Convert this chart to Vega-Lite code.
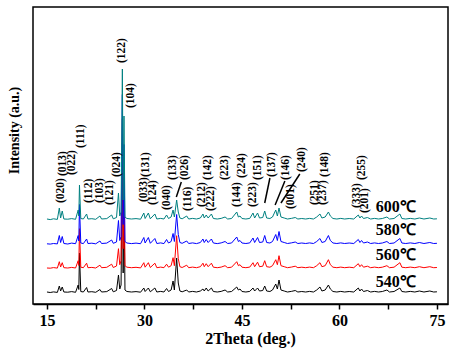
{
"$schema":"https://vega.github.io/schema/vega-lite/v6.json",
"width":415,"height":297,"autosize":"none",
"padding":{"left":33,"top":7,"right":6,"bottom":45},
"background":"white",
"config":{"view":{"stroke":"black","strokeWidth":1.5},"font":"Liberation Serif","axis":{"titleFont":"Liberation Serif","labelFont":"Liberation Serif"}},
"datasets":{
"xrd":[
{"x":15.0,"y":12,"s":"540"},{"x":15.5,"y":11.5,"s":"540"},{"x":16.0,"y":12.1,"s":"540"},{"x":16.6,"y":11.6,"s":"540"},{"x":16.9,"y":18,"s":"540"},{"x":17.1,"y":13,"s":"540"},{"x":17.35,"y":17,"s":"540"},{"x":17.6,"y":12,"s":"540"},{"x":18.2,"y":11.8,"s":"540"},{"x":18.8,"y":12.4,"s":"540"},{"x":19.4,"y":11.7,"s":"540"},{"x":19.8,"y":19,"s":"540"},{"x":19.9,"y":14.5,"s":"540"},{"x":20.0,"y":51,"s":"540"},{"x":20.2,"y":12.5,"s":"540"},{"x":20.6,"y":12,"s":"540"},{"x":21.1,"y":16.5,"s":"540"},{"x":21.3,"y":12,"s":"540"},{"x":21.9,"y":12.3,"s":"540"},{"x":22.5,"y":11.7,"s":"540"},{"x":23.15,"y":14.5,"s":"540"},{"x":23.4,"y":12,"s":"540"},{"x":24.2,"y":12.4,"s":"540"},{"x":24.95,"y":15.5,"s":"540"},{"x":25.2,"y":12.2,"s":"540"},{"x":25.7,"y":13.5,"s":"540"},{"x":26.0,"y":29,"s":"540"},{"x":26.2,"y":15,"s":"540"},{"x":26.4,"y":19,"s":"540"},{"x":26.6,"y":161,"s":"540"},{"x":26.72,"y":31,"s":"540"},{"x":26.85,"y":111,"s":"540"},{"x":27.0,"y":14,"s":"540"},{"x":27.3,"y":12.5,"s":"540"},{"x":28.0,"y":12,"s":"540"},{"x":28.7,"y":12.4,"s":"540"},{"x":29.4,"y":11.8,"s":"540"},{"x":29.9,"y":16,"s":"540"},{"x":30.1,"y":12.5,"s":"540"},{"x":30.6,"y":16,"s":"540"},{"x":30.9,"y":12.2,"s":"540"},{"x":31.6,"y":16,"s":"540"},{"x":31.9,"y":12,"s":"540"},{"x":32.5,"y":12.6,"s":"540"},{"x":33.0,"y":12,"s":"540"},{"x":33.4,"y":15.5,"s":"540"},{"x":33.7,"y":12.5,"s":"540"},{"x":34.1,"y":14,"s":"540"},{"x":34.4,"y":23,"s":"540"},{"x":34.6,"y":14,"s":"540"},{"x":34.95,"y":46,"s":"540"},{"x":35.2,"y":21,"s":"540"},{"x":35.45,"y":13,"s":"540"},{"x":35.8,"y":12.2,"s":"540"},{"x":36.5,"y":14,"s":"540"},{"x":36.8,"y":12,"s":"540"},{"x":37.4,"y":12.6,"s":"540"},{"x":38.0,"y":12,"s":"540"},{"x":38.6,"y":13,"s":"540"},{"x":39.0,"y":15,"s":"540"},{"x":39.2,"y":13,"s":"540"},{"x":39.5,"y":16,"s":"540"},{"x":39.8,"y":13,"s":"540"},{"x":40.3,"y":16,"s":"540"},{"x":40.6,"y":12.5,"s":"540"},{"x":41.2,"y":12,"s":"540"},{"x":41.8,"y":12.6,"s":"540"},{"x":42.4,"y":14,"s":"540"},{"x":42.8,"y":12,"s":"540"},{"x":43.4,"y":12.5,"s":"540"},{"x":44.2,"y":17,"s":"540"},{"x":44.45,"y":14,"s":"540"},{"x":44.7,"y":15,"s":"540"},{"x":45.0,"y":12.5,"s":"540"},{"x":45.6,"y":12,"s":"540"},{"x":46.2,"y":12.6,"s":"540"},{"x":46.7,"y":16,"s":"540"},{"x":46.95,"y":13,"s":"540"},{"x":47.4,"y":16,"s":"540"},{"x":47.7,"y":13,"s":"540"},{"x":48.2,"y":13.5,"s":"540"},{"x":48.5,"y":18,"s":"540"},{"x":48.8,"y":13,"s":"540"},{"x":49.3,"y":12.5,"s":"540"},{"x":49.7,"y":14,"s":"540"},{"x":50.2,"y":20,"s":"540"},{"x":50.45,"y":15,"s":"540"},{"x":50.7,"y":24,"s":"540"},{"x":51.0,"y":14,"s":"540"},{"x":51.5,"y":13,"s":"540"},{"x":52.0,"y":12,"s":"540"},{"x":52.6,"y":12.6,"s":"540"},{"x":53.2,"y":13.5,"s":"540"},{"x":53.6,"y":12,"s":"540"},{"x":54.2,"y":12.5,"s":"540"},{"x":54.8,"y":12,"s":"540"},{"x":55.4,"y":12.6,"s":"540"},{"x":56.0,"y":12,"s":"540"},{"x":56.5,"y":14,"s":"540"},{"x":57.0,"y":17,"s":"540"},{"x":57.3,"y":13,"s":"540"},{"x":57.8,"y":14,"s":"540"},{"x":58.3,"y":19,"s":"540"},{"x":58.6,"y":15,"s":"540"},{"x":59.0,"y":12.5,"s":"540"},{"x":59.6,"y":12,"s":"540"},{"x":60.2,"y":12.6,"s":"540"},{"x":60.8,"y":12,"s":"540"},{"x":61.5,"y":12.5,"s":"540"},{"x":62.2,"y":12,"s":"540"},{"x":62.9,"y":16,"s":"540"},{"x":63.15,"y":13,"s":"540"},{"x":63.4,"y":15,"s":"540"},{"x":63.7,"y":12.5,"s":"540"},{"x":64.3,"y":13.5,"s":"540"},{"x":64.8,"y":12,"s":"540"},{"x":65.4,"y":12.6,"s":"540"},{"x":66.0,"y":12,"s":"540"},{"x":66.6,"y":12.5,"s":"540"},{"x":67.3,"y":14,"s":"540"},{"x":67.7,"y":12,"s":"540"},{"x":68.4,"y":12.5,"s":"540"},{"x":69.3,"y":16,"s":"540"},{"x":69.6,"y":12.5,"s":"540"},{"x":70.2,"y":12,"s":"540"},{"x":70.9,"y":12.6,"s":"540"},{"x":71.6,"y":12,"s":"540"},{"x":72.3,"y":13,"s":"540"},{"x":73.0,"y":12,"s":"540"},{"x":73.9,"y":13,"s":"540"},{"x":74.5,"y":12,"s":"540"},{"x":75.0,"y":12.2,"s":"540"},

{"x":15.0,"y":36,"s":"560"},{"x":15.5,"y":35.8,"s":"560"},{"x":16.0,"y":36.4,"s":"560"},{"x":16.6,"y":35.9,"s":"560"},{"x":16.9,"y":42.3,"s":"560"},{"x":17.1,"y":37,"s":"560"},{"x":17.35,"y":41.3,"s":"560"},{"x":17.6,"y":36.3,"s":"560"},{"x":18.2,"y":36,"s":"560"},{"x":18.8,"y":36.6,"s":"560"},{"x":19.4,"y":36,"s":"560"},{"x":19.8,"y":43.3,"s":"560"},{"x":19.9,"y":38.5,"s":"560"},{"x":20.0,"y":75.3,"s":"560"},{"x":20.2,"y":36.8,"s":"560"},{"x":20.6,"y":36.3,"s":"560"},{"x":21.1,"y":40.8,"s":"560"},{"x":21.3,"y":36.3,"s":"560"},{"x":21.9,"y":36.6,"s":"560"},{"x":22.5,"y":36,"s":"560"},{"x":23.15,"y":38.8,"s":"560"},{"x":23.4,"y":36.3,"s":"560"},{"x":24.2,"y":36.7,"s":"560"},{"x":24.95,"y":39.8,"s":"560"},{"x":25.2,"y":36.5,"s":"560"},{"x":25.7,"y":38,"s":"560"},{"x":26.0,"y":55.3,"s":"560"},{"x":26.2,"y":39.3,"s":"560"},{"x":26.4,"y":43.3,"s":"560"},{"x":26.6,"y":185.3,"s":"560"},{"x":26.72,"y":55.3,"s":"560"},{"x":26.85,"y":135.3,"s":"560"},{"x":27.0,"y":38.3,"s":"560"},{"x":27.3,"y":36.8,"s":"560"},{"x":28.0,"y":36.3,"s":"560"},{"x":28.7,"y":36.7,"s":"560"},{"x":29.4,"y":36.1,"s":"560"},{"x":29.9,"y":41.3,"s":"560"},{"x":30.1,"y":36.8,"s":"560"},{"x":30.6,"y":41.3,"s":"560"},{"x":30.9,"y":36.5,"s":"560"},{"x":31.6,"y":40.8,"s":"560"},{"x":31.9,"y":36.3,"s":"560"},{"x":32.5,"y":36.9,"s":"560"},{"x":33.0,"y":36.3,"s":"560"},{"x":33.4,"y":39.8,"s":"560"},{"x":33.7,"y":36.8,"s":"560"},{"x":34.1,"y":38.3,"s":"560"},{"x":34.4,"y":46.3,"s":"560"},{"x":34.6,"y":38.3,"s":"560"},{"x":34.95,"y":68.3,"s":"560"},{"x":35.2,"y":45.3,"s":"560"},{"x":35.45,"y":37.3,"s":"560"},{"x":35.8,"y":36.5,"s":"560"},{"x":36.5,"y":38.8,"s":"560"},{"x":36.8,"y":36.3,"s":"560"},{"x":37.4,"y":36.9,"s":"560"},{"x":38.0,"y":36.3,"s":"560"},{"x":38.6,"y":37.3,"s":"560"},{"x":39.0,"y":40.8,"s":"560"},{"x":39.2,"y":37.3,"s":"560"},{"x":39.5,"y":40.3,"s":"560"},{"x":39.8,"y":37.3,"s":"560"},{"x":40.3,"y":40.8,"s":"560"},{"x":40.6,"y":36.8,"s":"560"},{"x":41.2,"y":36.3,"s":"560"},{"x":41.8,"y":36.9,"s":"560"},{"x":42.4,"y":38.3,"s":"560"},{"x":42.8,"y":36.3,"s":"560"},{"x":43.4,"y":36.8,"s":"560"},{"x":44.2,"y":42.3,"s":"560"},{"x":44.45,"y":38.3,"s":"560"},{"x":44.7,"y":39.3,"s":"560"},{"x":45.0,"y":36.8,"s":"560"},{"x":45.6,"y":36.3,"s":"560"},{"x":46.2,"y":36.9,"s":"560"},{"x":46.7,"y":41.3,"s":"560"},{"x":46.95,"y":37.3,"s":"560"},{"x":47.4,"y":41.8,"s":"560"},{"x":47.7,"y":37.3,"s":"560"},{"x":48.2,"y":37.8,"s":"560"},{"x":48.5,"y":43.3,"s":"560"},{"x":48.8,"y":37.3,"s":"560"},{"x":49.3,"y":36.8,"s":"560"},{"x":49.7,"y":38.3,"s":"560"},{"x":50.2,"y":44.3,"s":"560"},{"x":50.45,"y":39.3,"s":"560"},{"x":50.7,"y":48.3,"s":"560"},{"x":51.0,"y":38.3,"s":"560"},{"x":51.5,"y":37.3,"s":"560"},{"x":52.0,"y":36.3,"s":"560"},{"x":52.6,"y":36.9,"s":"560"},{"x":53.2,"y":37.8,"s":"560"},{"x":53.6,"y":36.3,"s":"560"},{"x":54.2,"y":36.8,"s":"560"},{"x":54.8,"y":36.3,"s":"560"},{"x":55.4,"y":36.9,"s":"560"},{"x":56.0,"y":36.3,"s":"560"},{"x":56.5,"y":38.3,"s":"560"},{"x":57.0,"y":41.3,"s":"560"},{"x":57.3,"y":37.3,"s":"560"},{"x":57.8,"y":38.3,"s":"560"},{"x":58.3,"y":44.3,"s":"560"},{"x":58.6,"y":39.3,"s":"560"},{"x":59.0,"y":36.8,"s":"560"},{"x":59.6,"y":36.3,"s":"560"},{"x":60.2,"y":36.9,"s":"560"},{"x":60.8,"y":36.3,"s":"560"},{"x":61.5,"y":36.8,"s":"560"},{"x":62.2,"y":36.3,"s":"560"},{"x":62.9,"y":40.3,"s":"560"},{"x":63.15,"y":37.3,"s":"560"},{"x":63.4,"y":39.3,"s":"560"},{"x":63.7,"y":36.8,"s":"560"},{"x":64.3,"y":37.8,"s":"560"},{"x":64.8,"y":36.3,"s":"560"},{"x":65.4,"y":36.9,"s":"560"},{"x":66.0,"y":36.3,"s":"560"},{"x":66.6,"y":36.8,"s":"560"},{"x":67.3,"y":38.3,"s":"560"},{"x":67.7,"y":36.3,"s":"560"},{"x":68.4,"y":36.8,"s":"560"},{"x":69.3,"y":41.3,"s":"560"},{"x":69.6,"y":36.8,"s":"560"},{"x":70.2,"y":36.3,"s":"560"},{"x":70.9,"y":36.9,"s":"560"},{"x":71.6,"y":36.3,"s":"560"},{"x":72.3,"y":37.3,"s":"560"},{"x":73.0,"y":36.3,"s":"560"},{"x":73.9,"y":37.3,"s":"560"},{"x":74.5,"y":36.3,"s":"560"},{"x":75.0,"y":36.5,"s":"560"},

{"x":15.0,"y":60.2,"s":"580"},{"x":15.5,"y":59.9,"s":"580"},{"x":16.0,"y":60.5,"s":"580"},{"x":16.6,"y":60.1,"s":"580"},{"x":16.9,"y":68.5,"s":"580"},{"x":17.1,"y":61.5,"s":"580"},{"x":17.35,"y":67.5,"s":"580"},{"x":17.6,"y":60.5,"s":"580"},{"x":18.2,"y":60,"s":"580"},{"x":18.8,"y":60.9,"s":"580"},{"x":19.4,"y":60.3,"s":"580"},{"x":19.8,"y":68.5,"s":"580"},{"x":19.9,"y":63,"s":"580"},{"x":20.0,"y":99.5,"s":"580"},{"x":20.2,"y":61,"s":"580"},{"x":20.6,"y":60.4,"s":"580"},{"x":21.1,"y":65,"s":"580"},{"x":21.3,"y":60.5,"s":"580"},{"x":21.9,"y":60.8,"s":"580"},{"x":22.5,"y":60.2,"s":"580"},{"x":23.15,"y":63,"s":"580"},{"x":23.4,"y":60.5,"s":"580"},{"x":24.2,"y":60.9,"s":"580"},{"x":24.95,"y":64,"s":"580"},{"x":25.2,"y":60.7,"s":"580"},{"x":25.7,"y":62,"s":"580"},{"x":26.0,"y":83.5,"s":"580"},{"x":26.2,"y":63.5,"s":"580"},{"x":26.4,"y":67.5,"s":"580"},{"x":26.6,"y":209.5,"s":"580"},{"x":26.72,"y":79.5,"s":"580"},{"x":26.85,"y":159.5,"s":"580"},{"x":27.0,"y":62.5,"s":"580"},{"x":27.3,"y":61,"s":"580"},{"x":28.0,"y":60.4,"s":"580"},{"x":28.7,"y":60.9,"s":"580"},{"x":29.4,"y":60.3,"s":"580"},{"x":29.9,"y":66.5,"s":"580"},{"x":30.1,"y":61,"s":"580"},{"x":30.6,"y":66.5,"s":"580"},{"x":30.9,"y":60.7,"s":"580"},{"x":31.6,"y":65.5,"s":"580"},{"x":31.9,"y":60.5,"s":"580"},{"x":32.5,"y":61.1,"s":"580"},{"x":33.0,"y":60.4,"s":"580"},{"x":33.4,"y":64.5,"s":"580"},{"x":33.7,"y":61,"s":"580"},{"x":34.1,"y":62.5,"s":"580"},{"x":34.4,"y":70.5,"s":"580"},{"x":34.6,"y":62.5,"s":"580"},{"x":34.95,"y":89.5,"s":"580"},{"x":35.2,"y":69.5,"s":"580"},{"x":35.45,"y":61.5,"s":"580"},{"x":35.8,"y":60.7,"s":"580"},{"x":36.5,"y":63,"s":"580"},{"x":36.8,"y":60.5,"s":"580"},{"x":37.4,"y":61.1,"s":"580"},{"x":38.0,"y":60.4,"s":"580"},{"x":38.6,"y":61.5,"s":"580"},{"x":39.0,"y":65,"s":"580"},{"x":39.2,"y":61.5,"s":"580"},{"x":39.5,"y":64.5,"s":"580"},{"x":39.8,"y":61.5,"s":"580"},{"x":40.3,"y":65,"s":"580"},{"x":40.6,"y":61,"s":"580"},{"x":41.2,"y":60.4,"s":"580"},{"x":41.8,"y":61.1,"s":"580"},{"x":42.4,"y":62.5,"s":"580"},{"x":42.8,"y":60.5,"s":"580"},{"x":43.4,"y":61,"s":"580"},{"x":44.2,"y":67,"s":"580"},{"x":44.45,"y":62.5,"s":"580"},{"x":44.7,"y":63.5,"s":"580"},{"x":45.0,"y":61,"s":"580"},{"x":45.6,"y":60.5,"s":"580"},{"x":46.2,"y":61.1,"s":"580"},{"x":46.7,"y":66,"s":"580"},{"x":46.95,"y":61.5,"s":"580"},{"x":47.4,"y":66.5,"s":"580"},{"x":47.7,"y":61.5,"s":"580"},{"x":48.2,"y":62,"s":"580"},{"x":48.5,"y":68.5,"s":"580"},{"x":48.8,"y":61.5,"s":"580"},{"x":49.3,"y":61,"s":"580"},{"x":49.7,"y":62.5,"s":"580"},{"x":50.2,"y":69.5,"s":"580"},{"x":50.45,"y":63.5,"s":"580"},{"x":50.7,"y":72.5,"s":"580"},{"x":51.0,"y":62.5,"s":"580"},{"x":51.5,"y":61.5,"s":"580"},{"x":52.0,"y":60.5,"s":"580"},{"x":52.6,"y":61.1,"s":"580"},{"x":53.2,"y":62,"s":"580"},{"x":53.6,"y":60.5,"s":"580"},{"x":54.2,"y":61,"s":"580"},{"x":54.8,"y":60.5,"s":"580"},{"x":55.4,"y":61.1,"s":"580"},{"x":56.0,"y":60.5,"s":"580"},{"x":56.5,"y":62.5,"s":"580"},{"x":57.0,"y":65.5,"s":"580"},{"x":57.3,"y":61.5,"s":"580"},{"x":57.8,"y":62.5,"s":"580"},{"x":58.3,"y":68.5,"s":"580"},{"x":58.6,"y":63.5,"s":"580"},{"x":59.0,"y":61,"s":"580"},{"x":59.6,"y":60.5,"s":"580"},{"x":60.2,"y":61.1,"s":"580"},{"x":60.8,"y":60.5,"s":"580"},{"x":61.5,"y":61,"s":"580"},{"x":62.2,"y":60.5,"s":"580"},{"x":62.9,"y":64.5,"s":"580"},{"x":63.15,"y":61.5,"s":"580"},{"x":63.4,"y":63.5,"s":"580"},{"x":63.7,"y":61,"s":"580"},{"x":64.3,"y":62,"s":"580"},{"x":64.8,"y":60.5,"s":"580"},{"x":65.4,"y":61.1,"s":"580"},{"x":66.0,"y":60.5,"s":"580"},{"x":66.6,"y":61,"s":"580"},{"x":67.3,"y":62.5,"s":"580"},{"x":67.7,"y":60.5,"s":"580"},{"x":68.4,"y":61,"s":"580"},{"x":69.3,"y":65.5,"s":"580"},{"x":69.6,"y":61,"s":"580"},{"x":70.2,"y":60.5,"s":"580"},{"x":70.9,"y":61.1,"s":"580"},{"x":71.6,"y":60.5,"s":"580"},{"x":72.3,"y":61.5,"s":"580"},{"x":73.0,"y":60.5,"s":"580"},{"x":73.9,"y":61.5,"s":"580"},{"x":74.5,"y":60.5,"s":"580"},{"x":75.0,"y":60.7,"s":"580"},

{"x":15.0,"y":85,"s":"600"},{"x":15.5,"y":84.4,"s":"600"},{"x":16.0,"y":85.2,"s":"600"},{"x":16.6,"y":84.6,"s":"600"},{"x":16.9,"y":96,"s":"600"},{"x":17.1,"y":86,"s":"600"},{"x":17.35,"y":93,"s":"600"},{"x":17.6,"y":85,"s":"600"},{"x":18.2,"y":84.8,"s":"600"},{"x":18.8,"y":85.4,"s":"600"},{"x":19.4,"y":84.7,"s":"600"},{"x":19.8,"y":94,"s":"600"},{"x":19.9,"y":88,"s":"600"},{"x":20.0,"y":119,"s":"600"},{"x":20.2,"y":85.5,"s":"600"},{"x":20.6,"y":85,"s":"600"},{"x":21.1,"y":90,"s":"600"},{"x":21.3,"y":85,"s":"600"},{"x":21.9,"y":85.3,"s":"600"},{"x":22.5,"y":84.7,"s":"600"},{"x":23.15,"y":88,"s":"600"},{"x":23.4,"y":85,"s":"600"},{"x":24.2,"y":85.4,"s":"600"},{"x":24.95,"y":89,"s":"600"},{"x":25.2,"y":85.2,"s":"600"},{"x":25.7,"y":86.5,"s":"600"},{"x":26.0,"y":111,"s":"600"},{"x":26.2,"y":88,"s":"600"},{"x":26.4,"y":92,"s":"600"},{"x":26.6,"y":235,"s":"600"},{"x":26.72,"y":104,"s":"600"},{"x":26.85,"y":188,"s":"600"},{"x":27.0,"y":87,"s":"600"},{"x":27.3,"y":85.5,"s":"600"},{"x":28.0,"y":85,"s":"600"},{"x":28.7,"y":85.4,"s":"600"},{"x":29.4,"y":84.8,"s":"600"},{"x":29.9,"y":91,"s":"600"},{"x":30.1,"y":85.5,"s":"600"},{"x":30.6,"y":91,"s":"600"},{"x":30.9,"y":85.2,"s":"600"},{"x":31.6,"y":90,"s":"600"},{"x":31.9,"y":85,"s":"600"},{"x":32.5,"y":85.6,"s":"600"},{"x":33.0,"y":85,"s":"600"},{"x":33.4,"y":89,"s":"600"},{"x":33.7,"y":85.5,"s":"600"},{"x":34.1,"y":87,"s":"600"},{"x":34.4,"y":94,"s":"600"},{"x":34.6,"y":87,"s":"600"},{"x":34.95,"y":104,"s":"600"},{"x":35.2,"y":92,"s":"600"},{"x":35.45,"y":86,"s":"600"},{"x":35.8,"y":85.2,"s":"600"},{"x":36.5,"y":88,"s":"600"},{"x":36.8,"y":85,"s":"600"},{"x":37.4,"y":85.6,"s":"600"},{"x":38.0,"y":85,"s":"600"},{"x":38.6,"y":86,"s":"600"},{"x":39.0,"y":90,"s":"600"},{"x":39.2,"y":86,"s":"600"},{"x":39.5,"y":89,"s":"600"},{"x":39.8,"y":86,"s":"600"},{"x":40.3,"y":90,"s":"600"},{"x":40.6,"y":85.5,"s":"600"},{"x":41.2,"y":85,"s":"600"},{"x":41.8,"y":85.6,"s":"600"},{"x":42.4,"y":87,"s":"600"},{"x":42.8,"y":85,"s":"600"},{"x":43.4,"y":85.5,"s":"600"},{"x":44.2,"y":92,"s":"600"},{"x":44.45,"y":87,"s":"600"},{"x":44.7,"y":88,"s":"600"},{"x":45.0,"y":85.5,"s":"600"},{"x":45.6,"y":85,"s":"600"},{"x":46.2,"y":85.6,"s":"600"},{"x":46.7,"y":91,"s":"600"},{"x":46.95,"y":86,"s":"600"},{"x":47.4,"y":91,"s":"600"},{"x":47.7,"y":86,"s":"600"},{"x":48.2,"y":86.5,"s":"600"},{"x":48.5,"y":93,"s":"600"},{"x":48.8,"y":86,"s":"600"},{"x":49.3,"y":85.5,"s":"600"},{"x":49.7,"y":87,"s":"600"},{"x":50.2,"y":94,"s":"600"},{"x":50.45,"y":88,"s":"600"},{"x":50.7,"y":96,"s":"600"},{"x":51.0,"y":87,"s":"600"},{"x":51.5,"y":86,"s":"600"},{"x":52.0,"y":85,"s":"600"},{"x":52.6,"y":85.6,"s":"600"},{"x":53.2,"y":86.5,"s":"600"},{"x":53.6,"y":85,"s":"600"},{"x":54.2,"y":85.5,"s":"600"},{"x":54.8,"y":85,"s":"600"},{"x":55.4,"y":85.6,"s":"600"},{"x":56.0,"y":85,"s":"600"},{"x":56.5,"y":87,"s":"600"},{"x":57.0,"y":90,"s":"600"},{"x":57.3,"y":86,"s":"600"},{"x":57.8,"y":87,"s":"600"},{"x":58.3,"y":92,"s":"600"},{"x":58.6,"y":88,"s":"600"},{"x":59.0,"y":85.5,"s":"600"},{"x":59.6,"y":85,"s":"600"},{"x":60.2,"y":85.6,"s":"600"},{"x":60.8,"y":85,"s":"600"},{"x":61.5,"y":85.5,"s":"600"},{"x":62.2,"y":85,"s":"600"},{"x":62.9,"y":89,"s":"600"},{"x":63.15,"y":86,"s":"600"},{"x":63.4,"y":88,"s":"600"},{"x":63.7,"y":85.5,"s":"600"},{"x":64.3,"y":86.5,"s":"600"},{"x":64.8,"y":85,"s":"600"},{"x":65.4,"y":85.6,"s":"600"},{"x":66.0,"y":85,"s":"600"},{"x":66.6,"y":85.5,"s":"600"},{"x":67.3,"y":87,"s":"600"},{"x":67.7,"y":85,"s":"600"},{"x":68.4,"y":85.5,"s":"600"},{"x":69.3,"y":90,"s":"600"},{"x":69.6,"y":85.5,"s":"600"},{"x":70.2,"y":85,"s":"600"},{"x":70.9,"y":85.6,"s":"600"},{"x":71.6,"y":85,"s":"600"},{"x":72.3,"y":86,"s":"600"},{"x":73.0,"y":85,"s":"600"},{"x":73.9,"y":86,"s":"600"},{"x":74.5,"y":85,"s":"600"},{"x":75.0,"y":85.2,"s":"600"}
],
"lab":[
{"t":"(020)","x":17.15,"y":101},{"t":"(013)","x":17.45,"y":128},{"t":"(022)","x":18.85,"y":129},{"t":"(111)","x":20.23,"y":156},
{"t":"(112)","x":21.5,"y":101},{"t":"(103)","x":23.15,"y":101},{"t":"(121)","x":24.7,"y":99},{"t":"(024)","x":25.7,"y":127},
{"t":"(122)","x":26.5,"y":241},{"t":"(104)","x":27.9,"y":196},{"t":"(033)","x":30.0,"y":102},{"t":"(131)","x":30.3,"y":127},
{"t":"(124)","x":31.35,"y":99},{"t":"(040)","x":33.5,"y":94},{"t":"(133)","x":34.4,"y":124},{"t":"(026)","x":36.2,"y":124},
{"t":"(116)","x":36.7,"y":93},{"t":"(212)","x":38.8,"y":97},{"t":"(142)","x":39.8,"y":124},{"t":"(222)","x":40.2,"y":93},
{"t":"(223)","x":42.4,"y":124},{"t":"(144)","x":44.3,"y":97},{"t":"(224)","x":45.0,"y":126},{"t":"(223)","x":46.75,"y":97},
{"t":"(151)","x":47.5,"y":124},{"t":"(137)","x":49.6,"y":127},{"t":"(146)","x":51.8,"y":124},{"t":"(001)","x":52.5,"y":95},
{"t":"(240)","x":54.2,"y":132},{"t":"(251)","x":56.2,"y":99},{"t":"(237)","x":57.5,"y":99},{"t":"(148)","x":57.8,"y":127},
{"t":"(333)","x":62.65,"y":96},{"t":"(255)","x":63.4,"y":124},{"t":"(201)","x":63.9,"y":91}
],
"lead":[
{"x":35.67,"y":122,"x2":34.9,"y2":107},
{"x":49.3,"y":126,"x2":48.5,"y2":101},
{"x":51.6,"y":123,"x2":50.1,"y2":99},
{"x":53.9,"y":130,"x2":51.0,"y2":101}
],
"temp":[
{"t":"600℃","x":65.6,"y":92},{"t":"580℃","x":65.6,"y":69},{"t":"560℃","x":65.6,"y":44},{"t":"540℃","x":65.6,"y":17}
]
},
"encoding":{
"x":{"field":"x","type":"quantitative","scale":{"domain":[12.85,76.7],"nice":false,"zero":false},
"axis":{"values":[15,22.5,30,37.5,45,52.5,60,67.5,75],"labelExpr":"datum.value % 15 === 0 ? datum.label : ''","labelOverlap":false,"labelFlush":false,"grid":false,"domainColor":"black","domainWidth":1.5,"tickColor":"black","tickWidth":1.5,"tickSize":5,"labelFont":"Liberation Serif","labelFontWeight":"bold","labelFontSize":16,"labelColor":"black","labelPadding":3,"title":"2Theta (deg.)","titleFont":"Liberation Serif","titleFontWeight":"bold","titleFontSize":16,"titleColor":"black","titleX":217,"titleY":39,"titleBaseline":"alphabetic"}},
"y":{"field":"y","type":"quantitative","scale":{"domain":[0,297],"nice":false,"zero":false},
"axis":{"title":"Intensity (a.u.)","ticks":false,"labels":false,"domain":false,"grid":false,"titleFont":"Liberation Serif","titleFontWeight":"bold","titleFontSize":14,"titleColor":"black","titleX":-19,"titleY":123,"titleBaseline":"middle","titleAngle":270}}
},
"layer":[
{"data":{"name":"xrd"},"transform":[{"filter":"datum.s === '540'"}],"mark":{"type":"line","color":"#000000","strokeWidth":1}},
{"data":{"name":"xrd"},"transform":[{"filter":"datum.s === '560'"}],"mark":{"type":"line","color":"#ff0000","strokeWidth":1}},
{"data":{"name":"xrd"},"transform":[{"filter":"datum.s === '580'"}],"mark":{"type":"line","color":"#0000ff","strokeWidth":1}},
{"data":{"name":"xrd"},"transform":[{"filter":"datum.s === '600'"}],"mark":{"type":"line","color":"#008080","strokeWidth":1}},
{"data":{"name":"lab"},"mark":{"type":"text","angle":270,"align":"left","baseline":"middle","font":"Liberation Serif","fontWeight":"bold","fontSize":11.5,"color":"black"},"encoding":{"text":{"field":"t"}}},
{"data":{"name":"lead"},"mark":{"type":"rule","color":"black","strokeWidth":1.5},"encoding":{"x2":{"field":"x2"},"y2":{"field":"y2"}}},
{"data":{"name":"temp"},"mark":{"type":"text","align":"left","baseline":"alphabetic","font":"Liberation Serif","fontWeight":"bold","fontSize":16,"color":"black"},"encoding":{"text":{"field":"t"}}}
]
}
